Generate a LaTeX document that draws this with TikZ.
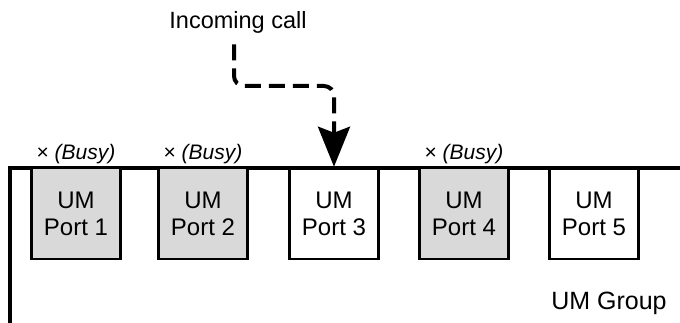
\documentclass[tikz,border=0pt]{standalone}
\usepackage{fontspec}
\setmainfont{Liberation Sans}
\usepackage{tikz}
\usetikzlibrary{arrows.meta, positioning}
\definecolor{busygrey}{HTML}{D9D9D9}

\tikzset{
  port/.style={draw, line width=2.5pt, minimum width=89pt, minimum height=91pt,
    align=center, inner sep=0pt, font=\fontsize{24}{27}\selectfont},
  busyport/.style={port, fill=busygrey},
  busy/.style={inner sep=2pt, font=\fontsize{21}{24}\selectfont},
  callarrow/.style={line width=4pt, dash pattern=on 16pt off 8pt, rounded corners=10pt,
    -{Stealth[length=40pt, width=32pt, inset=6pt]}}
}

\begin{document}
\begin{tikzpicture}[x=1pt, y=-1pt]
  \useasboundingbox (0,0) rectangle (680,323);
  % group outline
  \draw[line width=3.5pt] (10,323) -- (10,168) -- (680,168);
  % ports
  \node[busyport] (p1) at (76,213.5)  {UM\\Port 1};
  \node[busyport] (p2) at (203,213.5) {UM\\Port 2};
  \node[port]     (p3) at (334,213.5) {UM\\Port 3};
  \node[busyport] (p4) at (464,213.5) {UM\\Port 4};
  \node[port]     (p5) at (594,213.5) {UM\\Port 5};
  \node[busy, above=1pt of p1] (b1) {× \textit{(Busy)}};
  \node[busy, above=1pt of p2] (b2) {× \textit{(Busy)}};
  \node[busy, above=1pt of p4] (b4) {× \textit{(Busy)}};
  \node[font=\fontsize{25}{30}\selectfont] (grp) at (609,303) {UM Group};
  % incoming call
  \node[font=\fontsize{23.5}{28}\selectfont] (call) at (238,22) {Incoming call};
  \coordinate (bend) at (300,86);
  \draw[callarrow] (call.south) ++(-4,8) |- (bend) -| (p3.north);
\end{tikzpicture}
\end{document}
